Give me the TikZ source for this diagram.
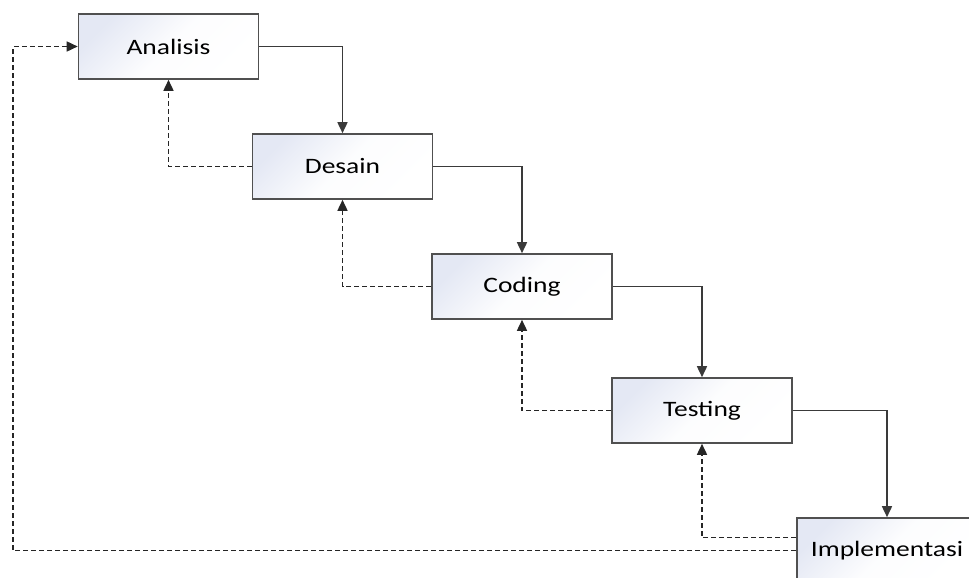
\documentclass[tikz,border=0pt]{standalone}
\usepackage{fontspec}
\setmainfont{Carlito}[FakeStretch=1.25]
\usetikzlibrary{arrows.meta}
\definecolor{boxline}{HTML}{505050}
\definecolor{boxtint}{HTML}{E4E8F4}
\definecolor{wire}{HTML}{3A3A3A}
\tikzset{
  phase/.style={draw=boxline, line width=1.6pt, minimum width=180pt, minimum height=65pt,
    inner sep=0pt, top color=boxtint, bottom color=white, middle color=white!90!boxtint,
    shading angle=45, font=\fontsize{22}{26}\selectfont, text=black},
  flow/.style={draw=wire, line width=1.6pt, -{Triangle[length=11pt,width=10pt]}},
  back/.style={draw=black!85, line width=1.6pt, dash pattern=on 5pt off 3pt,
    -{Triangle[length=11pt,width=10pt]}}
}
\begin{document}
\begin{tikzpicture}[x=1pt,y=-1pt]
\useasboundingbox (0,0) rectangle (969,578);
\begin{scope}
\clip (0,0) rectangle (969,578);
\node[phase] (ana) at (168.5,46.5) {Analisis};
\node[phase] (des) at (342.5,166.5) {Desain};
\node[phase] (cod) at (522,286.5) {Coding};
\node[phase] (tes) at (702,410.5) {Testing};
\node[phase] (imp) at (887,550.5) {Implementasi};
\end{scope}
\coordinate (lc) at (13,46.5);
% forward flow
\draw[flow] (ana.east) -| (des.north);
\draw[flow] (des.east) -| (cod.north);
\draw[flow] (cod.east) -| (tes.north);
\draw[flow] (tes.east) -| (imp.north);
% feedback paths
\draw[back] (des.west) -| (ana.south);
\draw[back] (cod.west) -| (des.south);
\draw[back] (tes.west) -| (cod.south);
\draw[back] ([yshift=13pt]imp.west) -| (tes.south);
\draw[back] (imp.west) -| (lc) -- (ana.west);
\end{tikzpicture}
\end{document}
